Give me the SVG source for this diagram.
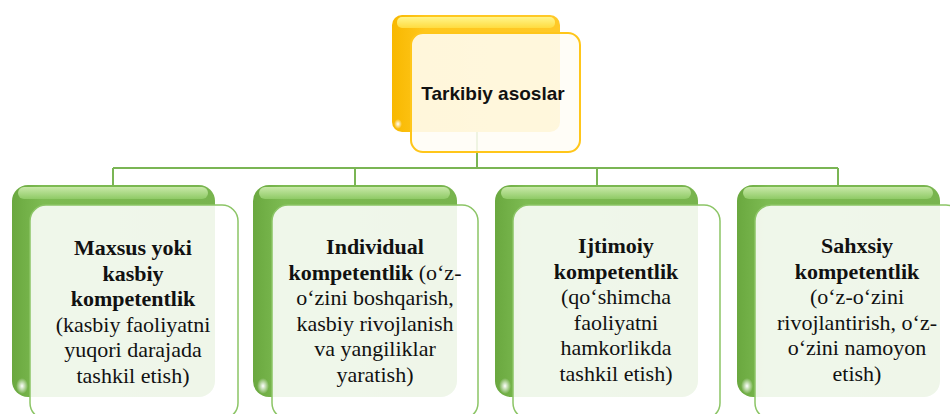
<svg xmlns="http://www.w3.org/2000/svg" width="950" height="414" viewBox="0 0 950 414">
<defs>
<linearGradient id="gGreen" x1="0" y1="0" x2="1" y2="0">
<stop offset="0" stop-color="#6aa83f"/>
<stop offset="0.15" stop-color="#7dbb52"/>
<stop offset="1" stop-color="#78b44e"/>
</linearGradient>
<linearGradient id="gGreenTop" x1="0" y1="0" x2="0" y2="1">
<stop offset="0" stop-color="#c8e8a8"/>
<stop offset="1" stop-color="#8fca66"/>
</linearGradient>
<linearGradient id="gGold" x1="0" y1="0" x2="1" y2="0">
<stop offset="0" stop-color="#f8b800"/>
<stop offset="0.2" stop-color="#ffc71c"/>
<stop offset="1" stop-color="#ffc928"/>
</linearGradient>
<linearGradient id="gGoldTop" x1="0" y1="0" x2="0" y2="1">
<stop offset="0" stop-color="#fff58a"/>
<stop offset="1" stop-color="#ffdc40"/>
</linearGradient>
<radialGradient id="curl" cx="0.5" cy="0.5" r="0.5">
<stop offset="0" stop-color="#ffffff"/>
<stop offset="1" stop-color="#ffffff" stop-opacity="0"/>
</radialGradient>
</defs>
<style>
.conn{fill:none;stroke:#7ab554;stroke-width:2}
.back{fill:url(#gGreen)}
.hl{fill:url(#gGreenTop)}
.front{fill:#ffffff;fill-opacity:0.88;stroke:#8cc566;stroke-width:1.5}
.gback{fill:url(#gGold)}
.ghl{fill:url(#gGoldTop)}
.gfront{fill:#fffdf6;fill-opacity:0.88;stroke:#ffc61a;stroke-width:2}
.t{font-family:"Liberation Serif","Times New Roman",serif;font-size:22px;fill:#111;text-anchor:middle}
.b{font-weight:bold}
.title{font-family:"Liberation Sans",Arial,sans-serif;font-size:19px;font-weight:bold;fill:#111;text-anchor:middle}
</style>
<rect width="950" height="414" fill="#ffffff"/>

<g id="connectors">
<path class="conn" d="M477 132 V168"/>
<path class="conn" d="M113 168 H838"/>
<path class="conn" d="M113 168 V186 M355 168 V186 M597 168 V186 M838 168 V186"/>
</g>

<g id="root">
<rect class="gback" x="392" y="15" width="168" height="117" rx="10"/>
<rect class="ghl" x="397" y="17" width="158" height="11" rx="5"/>
<ellipse cx="398" cy="124" rx="4" ry="5" fill="url(#curl)"/>
<rect class="gfront" x="411" y="33" width="169" height="119" rx="12"/>
<text class="title" x="493" y="100">Tarkibiy asoslar</text>
</g>

<g id="node1">
<rect class="back" x="12" y="185" width="203" height="212" rx="16"/>
<rect class="hl" x="18" y="187" width="190" height="12" rx="6"/>
<ellipse cx="22" cy="386" rx="6" ry="8" fill="url(#curl)"/>
<rect class="front" x="30" y="205" width="208" height="214" rx="16"/>
<text class="t"><tspan class="b" x="133" y="255">Maxsus yoki</tspan><tspan class="b" x="133" y="280.5">kasbiy</tspan><tspan class="b" x="133" y="306">kompetentlik</tspan><tspan x="133" y="331.5">(kasbiy faoliyatni</tspan><tspan x="133" y="357">yuqori darajada</tspan><tspan x="133" y="382.5">tashkil etish)</tspan></text>
</g>

<g id="node2">
<rect class="back" x="253" y="185" width="204" height="212" rx="16"/>
<rect class="hl" x="259" y="187" width="191" height="12" rx="6"/>
<ellipse cx="263" cy="386" rx="6" ry="8" fill="url(#curl)"/>
<rect class="front" x="272" y="205" width="206" height="214" rx="16"/>
<text class="t"><tspan class="b" x="375" y="254">Individual</tspan><tspan x="375" y="279.5"><tspan class="b">kompetentlik</tspan> (o‘z-</tspan><tspan x="375" y="305">o‘zini boshqarish,</tspan><tspan x="375" y="330.5">kasbiy rivojlanish</tspan><tspan x="375" y="356">va yangiliklar</tspan><tspan x="375" y="381.5">yaratish)</tspan></text>
</g>

<g id="node3">
<rect class="back" x="495" y="185" width="203" height="212" rx="16"/>
<rect class="hl" x="501" y="187" width="190" height="12" rx="6"/>
<ellipse cx="505" cy="386" rx="6" ry="8" fill="url(#curl)"/>
<rect class="front" x="513" y="205" width="207" height="214" rx="16"/>
<text class="t"><tspan class="b" x="616" y="253">Ijtimoiy</tspan><tspan class="b" x="616" y="278.5">kompetentlik</tspan><tspan x="616" y="304">(qo‘shimcha</tspan><tspan x="616" y="329.5">faoliyatni</tspan><tspan x="616" y="355">hamkorlikda</tspan><tspan x="616" y="380.5">tashkil etish)</tspan></text>
</g>

<g id="node4">
<rect class="back" x="737" y="185" width="203" height="212" rx="16"/>
<rect class="hl" x="743" y="187" width="190" height="12" rx="6"/>
<ellipse cx="747" cy="386" rx="6" ry="8" fill="url(#curl)"/>
<rect class="front" x="755" y="205" width="207" height="214" rx="16"/>
<text class="t"><tspan class="b" x="857" y="253">Sahxsiy</tspan><tspan class="b" x="857" y="278.5">kompetentlik</tspan><tspan x="857" y="304">(o‘z-o‘zini</tspan><tspan x="857" y="329.5">rivojlantirish, o‘z-</tspan><tspan x="857" y="355">o‘zini namoyon</tspan><tspan x="857" y="380.5">etish)</tspan></text>
</g>
</svg>
